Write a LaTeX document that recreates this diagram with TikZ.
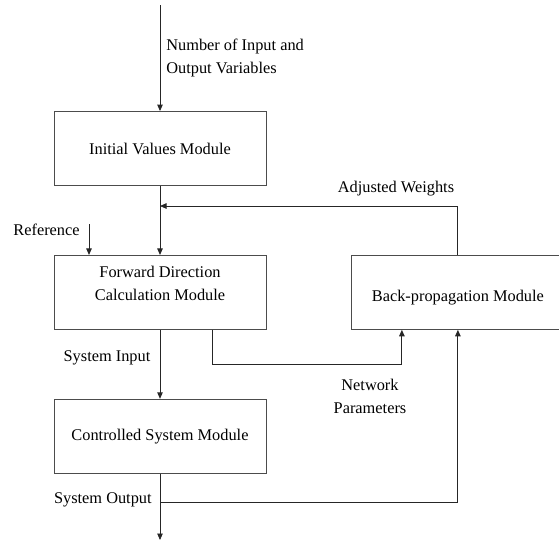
\documentclass[tikz,border=0pt]{standalone}
\usepackage{fontspec}
\setmainfont{Liberation Serif}
\usetikzlibrary{arrows.meta, positioning, calc}

\begin{document}
\begin{tikzpicture}[
        node distance=1.38cm,
        >={Triangle[length=1.3mm, width=1.1mm]},
        module/.style={rectangle, draw=black!70, line width=0.5pt, minimum width=4.24cm, minimum height=1.48cm, align=center, inner sep=0pt, font=\fontsize{9.3}{13.1}\selectfont},
        lbl/.style={align=center, inner sep=0pt, font=\fontsize{9.3}{13.1}\selectfont},
        conn/.style={->, draw=black!85, line width=0.5pt}
    ]
        \useasboundingbox (0,0) rectangle (11.18,-10.84);
        \node[module] (init) at (3.2,-2.97) {Initial Values Module};
        \node[module, below=of init, text depth=0.35cm] (fwd) {Forward Direction\\Calculation Module};
        \node[module, below=of fwd] (ctrl) {Controlled System Module};
        \node[module, right=1.7cm of fwd, text height=0.43cm] (back) {Back-propagation Module};

        \coordinate (in) at (3.2,-0.1);
        \coordinate (ref) at (1.78,-4.48);
        \coordinate (fb) at (3.2,-4.12);
        \coordinate (np) at (4.24,-7.28);
        \coordinate (so) at (3.2,-10.04);
        \coordinate (out) at (3.2,-10.8);

        \draw[conn] (in) -- (init);
        \draw[conn] (init) -- (fwd);
        \draw[conn] (ref) -- (ref |- fwd.north);
        \draw[conn] (back.north) |- (fb);
        \draw[conn] (fwd) -- (ctrl);
        \draw[conn] (ctrl) -- (out);
        \draw[conn] (np |- fwd.south) -- (np) -| ($(back.south)+(-1.12,0)$);
        \draw[conn] (so) -| (back.south);

        \node[lbl, align=left, anchor=west] (nlbl) at (3.32,-1.16) {Number of Input and\\Output Variables};
        \node[lbl, anchor=east] (rlbl) at (1.6,-4.6) {Reference};
        \node[lbl] (awlbl) at (7.92,-3.78) {Adjusted Weights};
        \node[lbl] (silbl) at (2.14,-7.16) {System Input};
        \node[lbl] (nplbl) at (7.4,-7.93) {Network\\Parameters};
        \node[lbl, anchor=east] (solbl) at (3.04,-10.0) {System Output};
\end{tikzpicture}
\end{document}
